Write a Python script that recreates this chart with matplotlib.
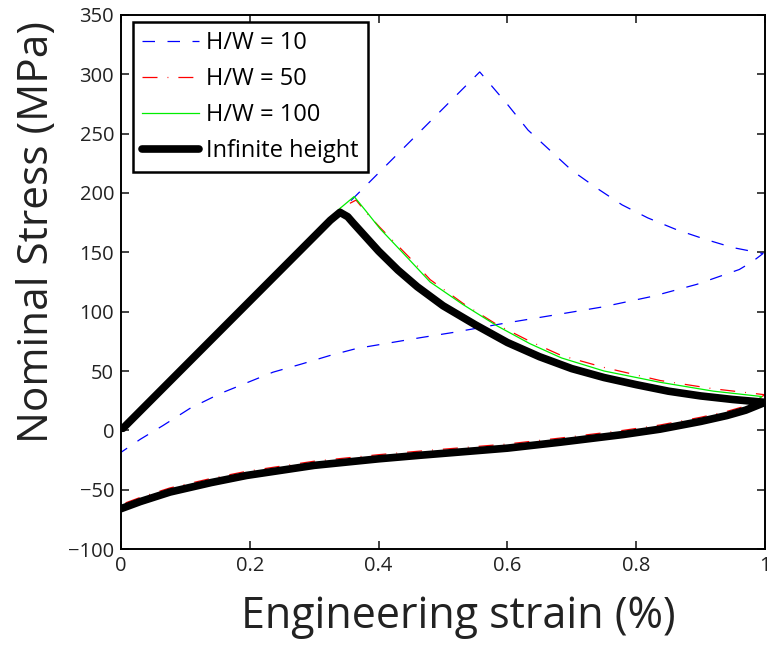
import matplotlib
matplotlib.use("Agg")
import matplotlib.pyplot as plt

plt.rcParams['font.family'] = ['Open Sans', 'DejaVu Sans']

# H/W = 10 : elastic loading, softening, unloading
hw10_x = [0.0, 0.557, 0.601, 0.632, 0.666, 0.700, 0.739, 0.778, 0.818, 0.863, 0.907, 0.950, 0.997,
          0.98, 0.96, 0.894, 0.826, 0.748, 0.671, 0.593, 0.516, 0.464, 0.366, 0.324, 0.281, 0.236, 0.195,
          0.154, 0.107, 0.065, 0.03, 0.0]
hw10_y = [0.0, 302, 274, 253, 236, 219, 204, 190, 179, 169, 161, 154, 149,
          142, 135.5, 123, 113, 104, 97, 90, 82.5, 78, 69, 63, 56, 49, 40,
          31, 18.5, 4, -7.5, -18.5]

# H/W = 50
hw50_x = [0.0, 0.34, 0.365, 0.38, 0.402, 0.449, 0.48, 0.531, 0.584, 0.635, 0.684, 0.75, 0.837, 0.92, 1.0,
          0.97, 0.941, 0.9, 0.837, 0.78, 0.682, 0.6, 0.464, 0.4, 0.3, 0.195, 0.14, 0.076, 0.03, 0.0]
hw50_y = [0.0, 187, 194, 184, 171, 145, 127, 107, 89, 75, 63, 53, 42, 35, 30,
          20.5, 16, 11, 4.5, 0, -6.5, -11.5, -17.5, -20.5, -26, -34.5, -40.5, -48.5, -56.5, -62.5]

# H/W = 100
hw100_x = [0.0, 0.34, 0.362, 0.38, 0.402, 0.449, 0.48, 0.531, 0.584, 0.635, 0.684, 0.75, 0.837, 0.92, 0.995,
           0.97, 0.941, 0.9, 0.837, 0.78, 0.682, 0.6, 0.464, 0.4, 0.3, 0.195, 0.14, 0.076, 0.03, 0.0]
hw100_y = [0.0, 187, 197, 185, 170, 143, 125, 106, 88, 73, 61, 50, 40.5, 33, 28.5,
           18, 13.5, 8.5, 2, -2.5, -9, -14, -20, -23, -28.5, -37, -43, -51, -59, -65]

# infinite height
inf_x = [0.003, 0.325, 0.34, 0.352, 0.36, 0.38, 0.40, 0.43, 0.46, 0.50, 0.55, 0.60, 0.65, 0.70, 0.75,
         0.80, 0.85, 0.90, 0.95, 1.0,
         0.97, 0.941, 0.9, 0.837, 0.78, 0.682, 0.6, 0.464, 0.4, 0.3, 0.195, 0.14, 0.076, 0.03, 0.0]
inf_y = [1.7, 177, 183.7, 180, 175, 163, 151, 135, 121, 105, 89, 74, 62, 52, 44.5,
         38.5, 33, 29, 26, 23.6,
         17, 12.5, 7.5, 1, -3.5, -10, -15, -21, -24, -29.5, -38, -44, -52, -60, -66]

fig = plt.figure(figsize=(7.67, 6.45), dpi=100)
ax = fig.add_axes([0.1578, 0.1488, 0.8396, 0.828])

ax.plot(hw10_x, hw10_y, color='blue', lw=0.9, dashes=(10, 10), label='H/W = 10')
ax.plot(hw50_x, hw50_y, color='red', lw=0.9, dashes=(12, 8, 0.7, 8), label='H/W = 50')
ax.plot(hw100_x, hw100_y, color='#00ee00', lw=0.9, label='H/W = 100')
ax.plot(inf_x, inf_y, color='black', lw=5.5, solid_joinstyle='round', solid_capstyle='round',
        label='Infinite height')

ax.set_xlim(0, 1)
ax.set_ylim(-100, 350)
ax.set_xticks([0, 0.2, 0.4, 0.6, 0.8, 1])
ax.set_xticklabels(['0', '0.2', '0.4', '0.6', '0.8', '1'])
ax.set_yticks(range(-100, 351, 50))
ax.set_yticklabels(['\u2212100', '\u221250', '0', '50', '100', '150', '200', '250', '300', '350'])
ax.tick_params(direction='in', top=True, right=True, labelsize=14.5, length=6, width=1.2,
               colors='#222222', pad=5)
for s in ax.spines.values():
    s.set_linewidth(1.4)

ax.set_xlabel('Engineering strain (%)', fontsize=31, color='#222222')
ax.set_ylabel('Nominal Stress (MPa)', fontsize=30.5, color='#222222')
ax.xaxis.set_label_coords(0.523, -0.085)
ax.yaxis.set_label_coords(-0.098, 0.594)

leg = ax.legend(loc='upper left', bbox_to_anchor=(0.0186, 0.987), borderaxespad=0, fontsize=17,
                frameon=True, fancybox=False, handlelength=2.4, labelspacing=0.5, borderpad=0.4,
                handletextpad=0.3)
leg.get_frame().set_edgecolor('black')
leg.get_frame().set_linewidth(1.8)
leg.get_frame().set_alpha(1)

fig.savefig('out.png', dpi=100)
